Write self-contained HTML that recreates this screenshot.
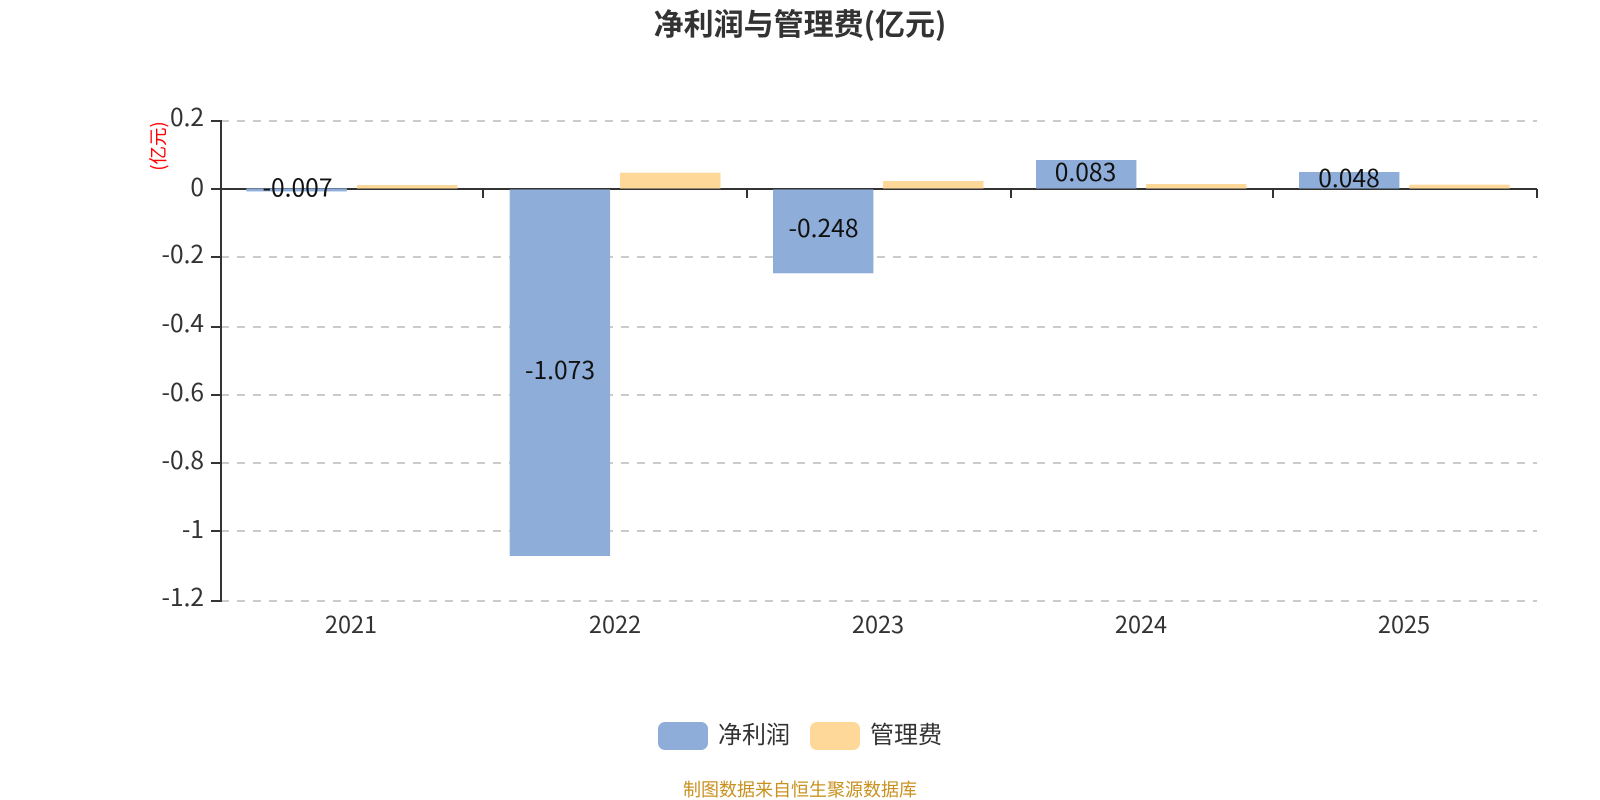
<!DOCTYPE html>
<html lang="zh">
<head>
<meta charset="utf-8">
<title>净利润与管理费(亿元)</title>
<style>
html,body{margin:0;padding:0;background:#fff;width:1600px;height:800px;overflow:hidden}
svg{display:block}
text{font-family:"Noto Sans CJK SC","Liberation Sans",sans-serif}
</style>
</head>
<body>
<svg xmlns="http://www.w3.org/2000/svg" width="1600" height="800" viewBox="0 0 1600 800">
<rect width="1600" height="800" fill="#fff"/>
<text x="800" y="35" text-anchor="middle" font-size="30" font-weight="700" fill="#333">净利润与管理费(亿元)</text>

<g stroke="#ccc" stroke-width="2" stroke-dasharray="8 8" fill="none">
<path d="M221 121H1537"/>
<path d="M221 257H1537"/>
<path d="M221 327H1537"/>
<path d="M221 395H1537"/>
<path d="M221 463H1537"/>
<path d="M221 531H1537"/>
<path d="M221 601H1537"/>
</g>

<g stroke="#333" stroke-width="2" fill="none">
<path d="M221 120V602"/>
<path d="M211 121H221M211 189H221M211 257H221M211 327H221M211 395H221M211 463H221M211 531H221M211 601H221"/>
<path d="M221 189H1537"/>
<path d="M483 189V198M747 189V198M1011 189V198M1273 189V198M1537 189V198"/>
</g>

<g fill="#8eadd9">
<rect x="246.3" y="188.4" width="100.6" height="3"/>
<rect x="509.7" y="189.5" width="100.4" height="366.5"/>
<rect x="773" y="189.5" width="100.4" height="83.8"/>
<rect x="1036" y="160" width="100.4" height="28.5"/>
<rect x="1299" y="172" width="100.4" height="16.5"/>
</g>
<g fill="#fed898">
<rect x="357" y="185" width="100.5" height="3.5"/>
<rect x="620" y="172.7" width="100.5" height="15.8"/>
<rect x="883" y="181" width="100.5" height="7.5"/>
<rect x="1146" y="184" width="100.5" height="4.5"/>
<rect x="1409.3" y="184.7" width="100.5" height="3.8"/>
</g>

<g font-size="24.5" fill="#333" text-anchor="end">
<text x="204" y="126">0.2</text>
<text x="204" y="196">0</text>
<text x="204" y="263">-0.2</text>
<text x="204" y="332">-0.4</text>
<text x="204" y="401">-0.6</text>
<text x="204" y="469">-0.8</text>
<text x="204" y="538">-1</text>
<text x="204" y="606">-1.2</text>
</g>

<g font-size="23.5" fill="#333" text-anchor="middle">
<text x="351" y="633">2021</text>
<text x="615" y="633">2022</text>
<text x="878" y="633">2023</text>
<text x="1141" y="633">2024</text>
<text x="1404" y="633">2025</text>
</g>

<g font-size="24.6" fill="#111" text-anchor="middle">
<text x="297.5" y="196.5">-0.007</text>
<text x="560" y="379">-1.073</text>
<text x="823.5" y="237">-0.248</text>
<text x="1085.5" y="181">0.083</text>
<text x="1349" y="187">0.048</text>
</g>

<text transform="translate(160,146) rotate(-90)" font-size="18.5" fill="#f00" text-anchor="middle" dominant-baseline="middle">(亿元)</text>

<rect x="658" y="722" width="50" height="28" rx="7" fill="#8eadd9"/>
<text x="718" y="743" font-size="24" fill="#333">净利润</text>
<rect x="810" y="722" width="50" height="28" rx="7" fill="#fed898"/>
<text x="870" y="743" font-size="24" fill="#333">管理费</text>

<text x="800" y="796" font-size="18" fill="#c8911f" text-anchor="middle">制图数据来自恒生聚源数据库</text>
</svg>
</body>
</html>
